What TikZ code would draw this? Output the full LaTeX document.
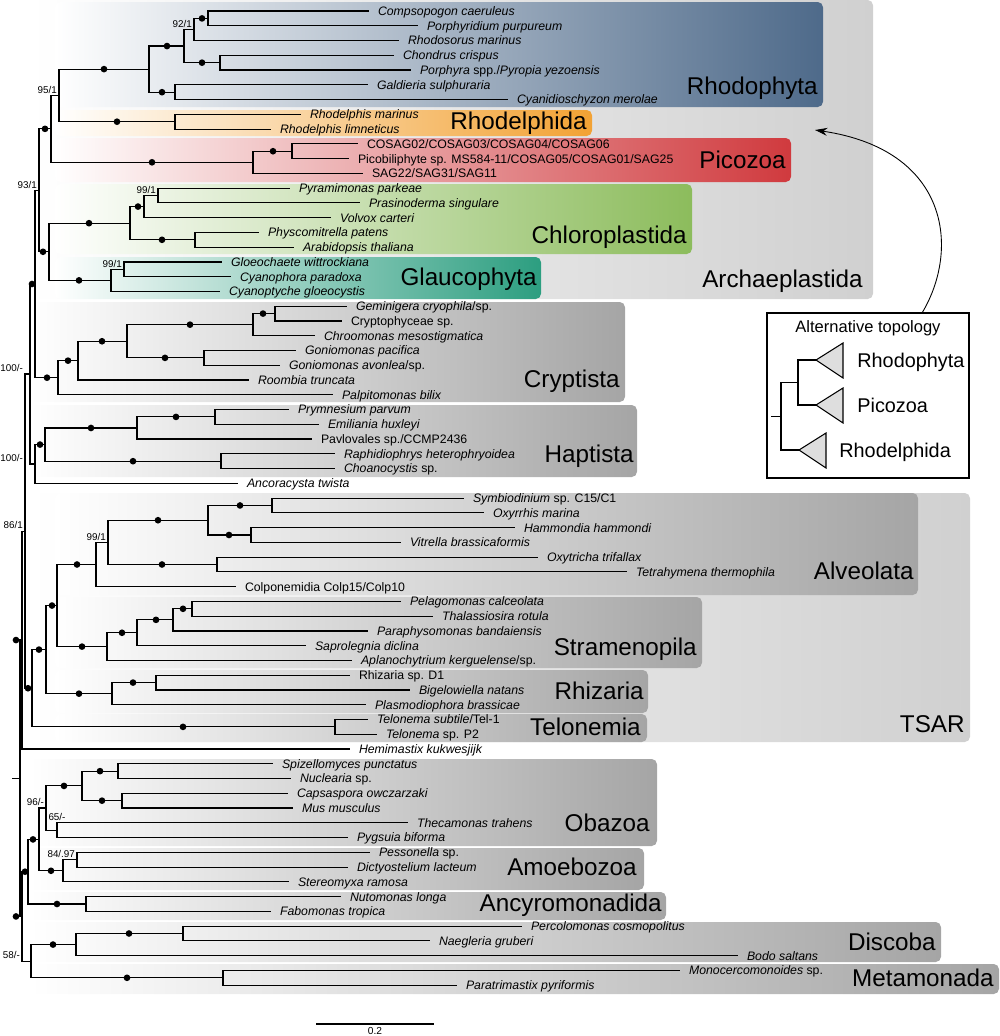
\documentclass[tikz,border=0pt]{standalone}
\usepackage{fontspec}
\setmainfont{Liberation Sans}
\usetikzlibrary{calc,arrows.meta}
\definecolor{rhodoblue}{RGB}{78,106,138}
\definecolor{rhodelorange}{RGB}{242,162,52}
\definecolor{picored}{RGB}{208,58,62}
\definecolor{chlorogreen}{RGB}{140,188,92}
\definecolor{glaucoteal}{RGB}{44,158,128}
\definecolor{cladegray}{RGB}{165,165,165}
\definecolor{supergray}{RGB}{208,208,208}
\definecolor{trigray}{RGB}{222,222,222}
\newcommand\inode[4]{%
  \coordinate (#1) at ($(#3)!.5!(#4)$);
  \coordinate (#1) at (#2,0 |- #1);
  \draw[branch] (#1) |- (#3) (#1) |- (#4);}

\begin{document}
\begin{tikzpicture}[x=0.02cm,y=-0.02cm,
  branch/.style={line width=0.65pt,line cap=rect},
  leaf/.style={anchor=west,inner sep=0pt,xshift=5.5pt,text height=5pt,text depth=0pt,font=\fontsize{7}{8}\selectfont},
  clade/.style={anchor=east,inner sep=0pt,text height=10pt,text depth=0pt,font=\fontsize{13.8}{14}\selectfont},
  bs/.style={anchor=south east,inner sep=1pt,font=\fontsize{5.6}{6}\selectfont},
  cladebox/.style={rounded corners=3pt,left color=white},
  tri/.style={fill=trigray,draw=black,line width=0.6pt}]
\useasboundingbox (0,0) rectangle (1000,1036);

\foreach \a/\b/\c/\d/\col in {30/0/873/299/supergray,55/2/823/107/rhodoblue,55/110/592/136/rhodelorange,
  55/138/791/182/picored,55/184/692/254/chlorogreen,55/257/541/299/glaucoteal,30/302/625/402/cladegray,
  30/405/637/477/cladegray,30/493/970/742/supergray,55/493/918/595/cladegray,55/597/702/668/cladegray,
  55/670/648/713/cladegray,55/714/647/742/cladegray,30/759/657/846/cladegray,30/848/644/890/cladegray,
  30/892/666/920/cladegray,30/922/941/962/cladegray,30/964/999/994/cladegray}
  \shade[cladebox,right color=\col] (\a,\b) rectangle (\c,\d);

\foreach \x/\lbl [count=\i] in {368/{\textit{Compsopogon caeruleus}},
  417/{\textit{Porphyridium purpureum}},398/{\textit{Rhodosorus marinus}},
  393/{\textit{Chondrus crispus}},410/{\textit{Porphyra} spp./\textit{Pyropia yezoensis}},
  367/{\textit{Galdieria sulphuraria}},507/{\textit{Cyanidioschyzon merolae}},
  300/{\textit{Rhodelphis marinus}},270/{\textit{Rhodelphis limneticus}},
  357/{COSAG02/COSAG03/COSAG04/COSAG06},348/{Picobiliphyte sp. MS584-11/COSAG05/COSAG01/SAG25},
  362/{SAG22/SAG31/SAG11},289/{\textit{Pyramimonas parkeae}},
  359/{\textit{Prasinoderma singulare}},330/{\textit{Volvox carteri}},
  258/{\textit{Physcomitrella patens}},293/{\textit{Arabidopsis thaliana}},
  221/{\textit{Gloeochaete wittrockiana}},230/{\textit{Cyanophora paradoxa}},
  219/{\textit{Cyanoptyche gloeocystis}},346/{\textit{Geminigera cryophila}/sp.},
  341/{Cryptophyceae sp.},314/{\textit{Chroomonas mesostigmatica}},
  295/{\textit{Goniomonas pacifica}},279/{\textit{Goniomonas avonlea}/sp.},
  248/{\textit{Roombia truncata}},332/{\textit{Palpitomonas bilix}},
  288/{\textit{Prymnesium parvum}},318/{\textit{Emiliania huxleyi}},
  311/{Pavlovales sp./CCMP2436},334/{\textit{Raphidiophrys heterophryoidea}},
  334/{\textit{Choanocystis} sp.},237/{\textit{Ancoracysta twista}},
  463/{\textit{Symbiodinium} sp. C15/C1},483/{\textit{Oxyrrhis marina}},
  514/{\textit{Hammondia hammondi}},400/{\textit{Vitrella brassicaformis}},
  537/{\textit{Oxytricha trifallax}},626/{\textit{Tetrahymena thermophila}},
  235/{Colponemidia Colp15/Colp10},400/{\textit{Pelagomonas calceolata}},
  432/{\textit{Thalassiosira rotula}},367/{\textit{Paraphysomonas bandaiensis}},
  305/{\textit{Saprolegnia diclina}},351/{\textit{Aplanochytrium kerguelense}/sp.},
  349/{Rhizaria sp. D1},409/{\textit{Bigelowiella natans}},
  365/{\textit{Plasmodiophora brassicae}},367/{\textit{Telonema subtile}/Tel-1},
  376/{\textit{Telonema} sp. P2},349/{\textit{Hemimastix kukwesjijk}},
  272/{\textit{Spizellomyces punctatus}},290/{\textit{Nuclearia} sp.},
  287/{\textit{Capsaspora owczarzaki}},292/{\textit{Mus musculus}},
  407/{\textit{Thecamonas trahens}},347/{\textit{Pygsuia biforma}},
  369/{\textit{Pessonella} sp.},347/{\textit{Dictyostelium lacteum}},
  288/{\textit{Stereomyxa ramosa}},340/{\textit{Nutomonas longa}},
  270/{\textit{Fabomonas tropica}},521/{\textit{Percolomonas cosmopolitus}},
  429/{\textit{Naegleria gruberi}},737/{\textit{Bodo saltans}},
  679/{\textit{Monocercomonoides} sp.},456/{\textit{Paratrimastix pyriformis}}}{
  \coordinate (L\i) at (\x,{11+(\i-1)*14.76});
  \node[leaf] (n\i) at (L\i) {\lbl};
}

\inode{r1}{208}{L1}{L2}
\inode{r2}{194}{r1}{L3}
\inode{r3}{220}{L4}{L5}
\inode{r4}{184}{r2}{r3}
\inode{r5}{175}{L6}{L7}
\inode{r6}{149}{r4}{r5}
\inode{d1}{175}{L8}{L9}
\inode{r7}{59}{r6}{d1}
\inode{p1}{292}{L10}{L11}
\inode{p2}{253}{p1}{L12}
\inode{r8}{51}{r7}{p2}
\inode{c1}{158}{L13}{L14}
\inode{c2}{144}{c1}{L15}
\inode{c3}{195}{L16}{L17}
\inode{c4}{130}{c2}{c3}
\inode{g1}{124}{L18}{L19}
\inode{g2}{111}{g1}{L20}
\inode{c5}{49}{c4}{g2}
\inode{a1}{39}{r8}{c5}
\inode{y1}{275}{L21}{L22}
\inode{y2}{253}{y1}{L23}
\inode{y3}{204}{L24}{L25}
\inode{y4}{127}{y2}{y3}
\inode{y5}{78}{y4}{L26}
\inode{y6}{58}{y5}{L27}
\inode{b1}{35}{a1}{y6}
\inode{h1}{215}{L28}{L29}
\inode{h2}{137}{h1}{L30}
\inode{h3}{221}{L31}{L32}
\inode{h4}{45}{h2}{h3}
\inode{h5}{35}{h4}{L33}
\inode{b2}{30}{b1}{h5}
\inode{t1}{272}{L34}{L35}
\inode{t2}{251}{L36}{L37}
\inode{t3}{208}{t1}{t2}
\inode{t4}{217}{L38}{L39}
\inode{t5}{108}{t3}{t4}
\inode{t6}{96}{t5}{L40}
\inode{s1}{192}{L41}{L42}
\inode{s2}{173}{s1}{L43}
\inode{s3}{137}{s2}{L44}
\inode{s4}{107}{s3}{L45}
\inode{s5}{57}{t6}{s4}
\inode{z1}{156}{L46}{L47}
\inode{z2}{112}{z1}{L48}
\inode{s6}{46}{s5}{z2}
\inode{e1}{335}{L49}{L50}
\inode{s7}{32}{s6}{e1}
\inode{b3}{25}{b2}{s7}
\inode{b4}{22}{b3}{L51}
\inode{o1}{118}{L52}{L53}
\inode{o2}{122}{L54}{L55}
\inode{o3}{82}{o1}{o2}
\inode{o4}{57}{L56}{L57}
\inode{o5}{46}{o3}{o4}
\inode{m1}{77}{L58}{L59}
\inode{m2}{63}{m1}{L60}
\inode{o6}{39}{o5}{m2}
\inode{n1}{86}{L61}{L62}
\inode{o7}{28}{o6}{n1}
\inode{k1}{183}{L63}{L64}
\inode{k2}{76}{k1}{L65}
\inode{q1}{223}{L66}{L67}
\inode{k3}{31}{k2}{q1}
\inode{b5}{22}{o7}{k3}
\inode{b0}{20}{b4}{b5}
\coordinate (rootT) at (13,0 |- b0);
\draw[branch] (rootT) -- (b0);

\foreach \x/\c in {202/r1,202/r3,167/r4,162/r5,104/r6,117/d1,273/p1,152/p2,45/r8,
  138/c2,162/c3,89/c4,79/g2,43/c5,263/y1,190/y2,165/y3,102/y4,68/y5,47/y6,32/b1,
  176/h1,91/h2,133/h3,40/h4,240/t1,229/t2,158/t3,162/t4,77/t6,183/s1,156/s2,122/s3,
  82/s4,52/s5,133/z1,79/z2,39/s6,183/e1,28/s7,16/b4,100/o1,102/o2,64/o3,51/m2,33/o6,
  57/n1,25/o7,129/k1,53/k2,127/q1,16/b5}
  \fill (\x,0 |- \c) circle[radius=1.9pt];

\node[bs] (bsr2) at (r2) {92/1};
\node[bs] (bsr7) at (r7) {95/1};
\node[bs] (bsa1) at (a1) {93/1};
\node[bs] (bsc1) at (c1) {99/1};
\node[bs] (bsg1) at (g1) {99/1};
\node[bs] (bsb2) at (b3 |- b2) {100/-};
\node[bs] (bsh5) at (b3 |- h5) {100/-};
\node[bs] (bsb3) at (b3) {86/1};
\node[bs] (bst5) at (t5) {99/1};
\node[bs] (bso5) at (o5) {96/-};
\node[bs,anchor=south] (bso4) at (o4 |- L56) {65/-};
\node[bs] (bsm1) at (m1) {84/.97};
\node[bs] (bsk3) at (b5 |- k3) {58/-};

\foreach \x/\y/\n in {818/86/Rhodophyta,587/121/Rhodelphida,786/160/Picozoa,687/235/Chloroplastida,
  537/277/Glaucophyta,863/279/Archaeplastida,620/379/Cryptista,634/454/Haptista,914/571/Alveolata,
  697/647/Stramenopila,644/691/Rhizaria,641/727/Telonemia,965/724/TSAR,650/823/Obazoa,
  637/867/Amoebozoa,662/903/Ancyromonadida,936/942/Discoba,994/978/Metamonada}
  \node[clade] (\n) at (\x,\y) {\n};

\node[draw,line width=0.6pt,fill=white,minimum width=4.04cm,minimum height=3.3cm,inner sep=0pt] (alt) at (868,395.5) {};
\node[anchor=north,inner sep=0pt,font=\fontsize{9.4}{10}\selectfont] (altT) at (868,320) {Alternative topology};
\coordinate (aR) at (816,360);
\coordinate (aP) at (816,405);
\coordinate (aD) at (799,450);
\filldraw[tri] (aR) -- ++(27,-17) -- ++(0,35) -- cycle;
\filldraw[tri] (aP) -- ++(27,-17) -- ++(0,35) -- cycle;
\filldraw[tri] (aD) -- ++(27,-17) -- ++(0,35) -- cycle;
\inode{i1}{798}{aR}{aP}
\inode{i0}{781}{i1}{aD}
\coordinate (i0T) at (772,0 |- i0);
\draw[branch] (i0T) -- (i0);
\node[anchor=west,inner sep=0pt,text height=8pt,text depth=0pt,font=\fontsize{11.3}{12}\selectfont] (iR) at (857,360) {Rhodophyta};
\node[anchor=west,inner sep=0pt,text height=8pt,text depth=0pt,font=\fontsize{11.3}{12}\selectfont] (iP) at (857,405) {Picozoa};
\node[anchor=west,inner sep=0pt,text height=8pt,text depth=0pt,font=\fontsize{11.3}{12}\selectfont] (iD) at (839,450) {Rhodelphida};
\coordinate (arrS) at (922,313);
\coordinate (arrE) at (815,130);
\draw[-{Stealth[length=7pt,width=4.5pt]},line width=0.5pt] (arrS) .. controls (960,250) and (950,150) .. (arrE);

\coordinate (sbL) at (316,1024);
\coordinate (sbR) at (434,1024);
\draw[line width=0.6pt] (sbL) -- (sbR);
\node[anchor=north,inner sep=0pt,font=\fontsize{5.8}{6}\selectfont] (sbT) at ($(sbL)!.5!(sbR)+(0,3)$) {0.2};
\end{tikzpicture}
\end{document}
